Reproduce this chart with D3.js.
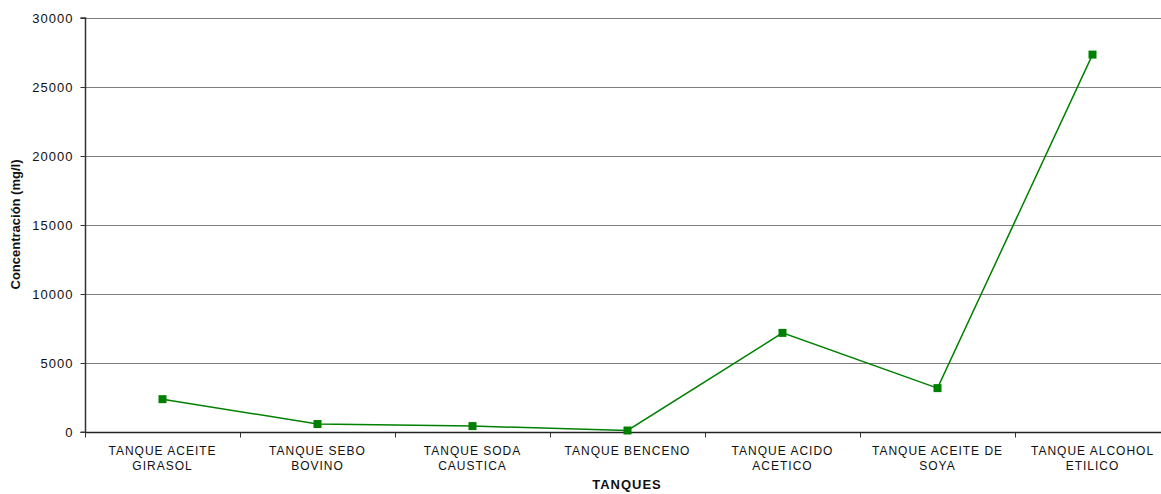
<!DOCTYPE html>
<html><head><meta charset="utf-8">
<script src="https://cdn.jsdelivr.net/npm/d3@7"></script>
<style>body{margin:0;background:#fff}svg{display:block}text{font-family:"Liberation Sans",Arial,sans-serif}</style>
</head><body><svg id="c" width="1161" height="494"></svg>
<script>
const categories = [["TANQUE ACEITE","GIRASOL"],["TANQUE SEBO","BOVINO"],["TANQUE SODA","CAUSTICA"],["TANQUE BENCENO"],["TANQUE ACIDO","ACETICO"],["TANQUE ACEITE DE","SOYA"],["TANQUE ALCOHOL","ETILICO"]];
const values = [2400, 600, 450, 130, 7200, 3200, 27350];
const yTicks = [0,5000,10000,15000,20000,25000,30000];

const svg = d3.select("#c");
const L = 85, R = 1170, T = 18, B = 432.3;
const x = d3.scaleBand().domain(d3.range(categories.length)).range([L, R]);
const y = d3.scaleLinear().domain([0, 30000]).range([B, T]);

// gridlines
svg.append("g").selectAll("line").data(yTicks.slice(1)).join("line")
  .attr("x1", L).attr("x2", R).attr("y1", d=>Math.round(y(d))+0.5).attr("y2", d=>Math.round(y(d))+0.5)
  .attr("stroke", "#7f7f7f").attr("stroke-width", 1);

// y axis
const ya = svg.append("g").attr("transform", `translate(${L+0.5},0)`)
  .call(d3.axisLeft(y).tickValues(yTicks).tickSize(5).tickPadding(7).tickFormat(d3.format("d")));
ya.select(".domain").attr("stroke", "#333").attr("stroke-width", 1.5).attr("d", `M-5,${T}H0V${B}H-5`);
ya.selectAll(".tick line").attr("stroke", "#333");
ya.selectAll(".tick text").attr("font-size", 13).attr("letter-spacing", 1).attr("fill", "#111").attr("font-family", '"Liberation Sans",Arial,sans-serif');
ya.selectAll(".tick").attr("transform", d=>`translate(0,${Math.round(y(d))+0.5})`);

// x axis
const xa = svg.append("g").attr("transform", `translate(0,${Math.round(B)+0.5})`);
xa.append("line").attr("x1", L).attr("x2", R).attr("stroke", "#222").attr("stroke-width", 1.5);
xa.selectAll("line.t").data(d3.range(categories.length)).join("line").attr("class","t")
  .attr("x1", d=>x(d)+0.5).attr("x2", d=>x(d)+0.5).attr("y1", 0).attr("y2", 5).attr("stroke", "#333");
const lab = xa.selectAll("text").data(categories).join("text")
  .attr("text-anchor", "middle").attr("font-size", 12).attr("letter-spacing", 1).attr("fill", "#111")
  .attr("transform", (d,i)=>`translate(${x(i)+x.bandwidth()/2},22)`);
lab.selectAll("tspan").data(d=>d).join("tspan").attr("x", 0).attr("dy", (d,i)=>i===0?0:15).text(d=>d);

// line
const line = d3.line().x((d,i)=>x(i)+x.bandwidth()/2).y(d=>y(d));
svg.append("path").datum(values).attr("d", line).attr("fill", "none").attr("stroke", "#008000").attr("stroke-width", 1.5);
svg.append("g").selectAll("rect").data(values).join("rect")
  .attr("x", (d,i)=>x(i)+x.bandwidth()/2-4).attr("y", d=>y(d)-4).attr("width", 8).attr("height", 8).attr("fill", "#008000");

// titles
svg.append("text").attr("transform", `translate(20,224.5) rotate(-90)`).attr("text-anchor","middle")
  .attr("font-size", 13).attr("font-weight","bold").attr("fill","#111").text("Concentración (mg/l)");
svg.append("text").attr("x", 627).attr("y", 489).attr("text-anchor","middle")
  .attr("font-size", 13).attr("letter-spacing", 1).attr("font-weight","bold").attr("fill","#111").text("TANQUES");
</script></body></html>
